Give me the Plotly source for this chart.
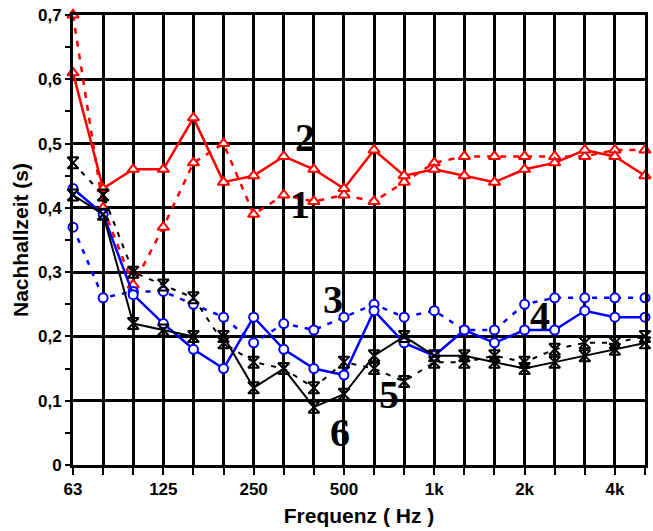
import plotly.graph_objects as go

bands = ["63", "80", "100", "125", "160", "200", "250", "315", "400", "500",
         "630", "800", "1k", "1.25k", "1.6k", "2k", "2.5k", "3.15k", "4k", "5k"]
band_labels = ["63", "", "", "125", "", "", "250", "", "", "500",
               "", "", "1k", "", "", "2k", "", "", "4k", ""]

s1 = [0.70, 0.40, 0.28, 0.37, 0.47, 0.50, 0.39, 0.42, 0.41, 0.42,
      0.41, 0.44, 0.47, 0.48, 0.48, 0.48, 0.48, 0.48, 0.49, 0.49]
s2 = [0.61, 0.43, 0.46, 0.46, 0.54, 0.44, 0.45, 0.48, 0.46, 0.43,
      0.49, 0.45, 0.46, 0.45, 0.44, 0.46, 0.47, 0.49, 0.48, 0.45]
s3 = [0.37, 0.26, 0.27, 0.27, 0.25, 0.23, 0.19, 0.22, 0.21, 0.23,
      0.25, 0.23, 0.24, 0.21, 0.21, 0.25, 0.26, 0.26, 0.26, 0.26]
s4 = [0.43, 0.39, 0.265, 0.22, 0.18, 0.15, 0.23, 0.18, 0.15, 0.14,
      0.24, 0.19, 0.17, 0.21, 0.19, 0.21, 0.21, 0.24, 0.23, 0.23]
s5 = [0.47, 0.42, 0.30, 0.28, 0.26, 0.19, 0.16, 0.15, 0.12, 0.16,
      0.15, 0.13, 0.16, 0.16, 0.17, 0.16, 0.18, 0.19, 0.19, 0.20]
s6 = [0.42, 0.39, 0.22, 0.21, 0.20, 0.20, 0.12, 0.15, 0.09, 0.11,
      0.17, 0.20, 0.17, 0.17, 0.16, 0.15, 0.16, 0.17, 0.18, 0.19]

y_ticks = [0, 0.1, 0.2, 0.3, 0.4, 0.5, 0.6, 0.7]
y_labels = ["0", "0,1", "0,2", "0,3", "0,4", "0,5", "0,6", "0,7"]

curve_labels = ["1", "2", "3", "4", "5", "6"]
label_x = [7.55, 7.7, 8.64, 15.5, 10.5, 8.87]
label_y = [0.405, 0.51, 0.257, 0.233, 0.109, 0.051]

RED = "#ff0000"
BLUE = "#0000ff"
BLACK = "#000000"

fig = go.Figure()

def add(y, color, dash, symbol, msize, width, mwidth, fill):
    fig.add_trace(go.Scatter(
        x=bands, y=y, mode="lines+markers", cliponaxis=False,
        line=dict(color=color, width=width, dash=dash),
        marker=dict(symbol=symbol, size=msize, color=fill,
                    line=dict(color=color, width=mwidth)),
        showlegend=False, hoverinfo="skip"))

add(s1, RED, "6px,7px", "triangle-up", 10, 2.5, 2, "white")
add(s2, RED, "solid", "triangle-up", 10, 2.5, 2, "white")
add(s3, BLUE, "5px,7px", "circle", 9, 2.5, 2, "white")
add(s4, BLUE, "solid", "circle", 9, 2.5, 2, "white")
add(s5, BLACK, "5px,7px", "hourglass-open", 11, 2, 2, BLACK)
add(s6, BLACK, "solid", "hourglass-open", 11, 2, 2, BLACK)

for t, xx, yy in zip(curve_labels, label_x, label_y):
    fig.add_annotation(x=xx, y=yy, text=t, showarrow=False,
                       font=dict(family="Liberation Serif", size=40,
                                 color="black", weight="bold"))

fig.update_layout(
    width=653, height=531,
    margin=dict(l=73, r=8, t=15, b=66),
    plot_bgcolor="white", paper_bgcolor="white",
    font=dict(family="Liberation Sans", color="black"),
)
fig.update_xaxes(
    type="category", categoryorder="array", categoryarray=bands,
    range=[0, 19], tickvals=bands, ticktext=band_labels, automargin=False,
    ticklabeloverflow="allow",
    showgrid=True, gridcolor="black", gridwidth=3,
    showline=True, linecolor="black", linewidth=3, mirror=True,
    ticks="outside", ticklen=7, tickwidth=2, tickcolor="black",
    tickfont=dict(size=17, weight="bold"),
    title=dict(text="Frequenz ( Hz )", font=dict(size=21, weight="bold"), standoff=10),
    zeroline=False,
)
fig.update_yaxes(
    range=[0, 0.7], tickvals=y_ticks, ticktext=y_labels, automargin=False,
    ticklabeloverflow="allow",
    showgrid=True, gridcolor="black", gridwidth=3,
    showline=True, linecolor="black", linewidth=3, mirror=True,
    ticks="outside", ticklen=5, tickwidth=2, tickcolor="black",
    minor=dict(tickvals=[0.05, 0.15, 0.25, 0.35, 0.45, 0.55, 0.65],
               ticks="outside", ticklen=5, tickwidth=2, tickcolor="black",
               showgrid=False),
    tickfont=dict(size=17, weight="bold"),
    title=dict(text="Nachhallzeit (s)", font=dict(size=21, weight="bold"), standoff=4),
    zeroline=False,
)

# remove the browser's default 8px body margin so the figure fills the window
fig.write_html("out.html", config={"displayModeBar": False},
               post_script="document.body.style.margin='0';document.body.style.overflow='hidden';")
